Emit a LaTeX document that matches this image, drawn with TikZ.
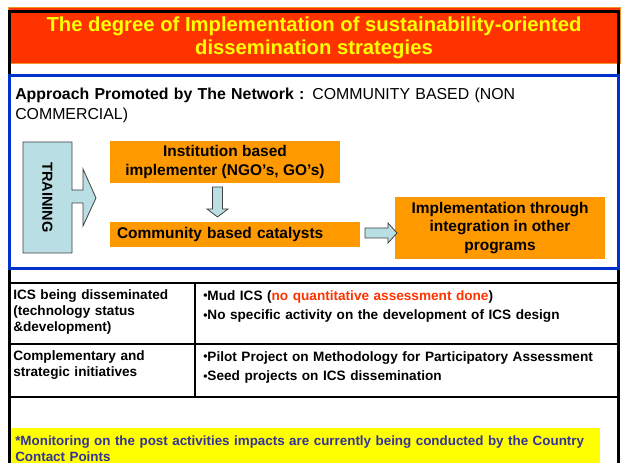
\documentclass[tikz,border=0pt]{standalone}
\usepackage{fontspec}
\setmainfont{Liberation Sans}
\definecolor{titlered}{RGB}{255,51,0}
\definecolor{titleyellow}{RGB}{255,255,0}
\definecolor{boxorange}{RGB}{255,153,0}
\definecolor{arrowblue}{RGB}{185,222,228}
\definecolor{frameblue}{RGB}{0,51,204}
\definecolor{notenavy}{RGB}{51,51,153}
\definecolor{titleedge}{RGB}{240,150,40}
\newcommand{\tbul}{{\fontsize{9}{9}\selectfont\raisebox{0.1ex}{•}}}
\begin{document}
\begin{tikzpicture}[x=0.75pt,y=-0.75pt,
  orangebox/.style={fill=boxorange, draw=none, inner sep=0pt,
    font=\fontsize{11.6}{13.9}\selectfont\bfseries, align=center},
  tabletext/.style={font=\fontsize{10.2}{12}\selectfont\bfseries, inner sep=0pt,
    anchor=base west, align=left, text width=135pt},
  bullettext/.style={font=\fontsize{10.2}{14.6}\selectfont\bfseries, inner sep=0pt,
    anchor=base west, align=left, text width=310pt},
  blockarrow/.style={fill=arrowblue, draw=black!75, line width=0.6pt},
  blackrule/.style={line width=1.5pt, draw=black},
]
\useasboundingbox (0,0) rectangle (626,463);
\fill[white] (0,0) rectangle (626,463);

% title bar
\filldraw[fill=titlered, draw=titleedge, line width=0.75pt] (8,8) rectangle (620,64);
\node[text=titleyellow, font=\fontsize{15.2}{17.3}\selectfont\bfseries, align=center,
  inner sep=0pt] (title) at (314,38)
  {The degree of Implementation of sustainability-oriented\\dissemination strategies};

% outer black frame
\draw[line width=1.9pt] (9.5,463) -- (9.5,11.5) -- (618.5,11.5) -- (618.5,463);

% blue approach box
\draw[frameblue, line width=2.25pt] (9.5,75.5) rectangle (618.5,268.5);
\node[anchor=base west, inner sep=0pt, text width=450pt, align=left,
  font=\fontsize{11.9}{14.3}\selectfont] (approach) at (15,100)
  {\textbf{Approach Promoted by The Network :} COMMUNITY BASED (NON\\COMMERCIAL)};

% training shape
\draw[blockarrow]
  (23,142) -- (72,142) -- (72,190) -- (83,190) -- (83,169) -- (96,198)
  -- (83,226) -- (83,203) -- (72,203) -- (72,253) -- (23,253) -- cycle;
\node[rotate=-90, font=\fontsize{10.9}{13}\selectfont\bfseries, inner sep=0pt]
  (training) at (47.5,197.5) {TRAINING};

% orange boxes
\node[orangebox, minimum width=172.5pt, minimum height=31.5pt] (inst) at (225,162)
  {Institution based\\implementer (NGO’s, GO’s)};
\node[orangebox, minimum height=18.75pt, text width=177pt, inner xsep=5.25pt,
  align=left] (comm) at (235,234.5) {Community based catalysts};
\node[orangebox, minimum width=157.5pt, minimum height=46.5pt] (impl) at (500,228)
  {Implementation through\\integration in other\\programs};

% block arrows
\coordinate (downtip) at (217.5,217);
\draw[blockarrow] (212.5,187) -- (222.5,187) -- (222.5,209) -- (228,209)
  -- (downtip) -- (207,209) -- (212.5,209) -- cycle;
\coordinate (righttip) at (397,233);
\draw[blockarrow] (365,228) -- (388,228) -- (388,223) -- (righttip)
  -- (388,243) -- (388,238) -- (365,238) -- cycle;

% table
\draw[blackrule] (9.5,283) rectangle (618.5,397);
\draw[blackrule] (9.5,344) -- (618.5,344);
\draw[blackrule] (195,283) -- (195,397);
\node[tabletext] (r1c1) at (13,300)
  {ICS being disseminated\\(technology status\\\&development)};
\node[tabletext] (r2c1) at (13,361)
  {Complementary and\\strategic initiatives};
\node[bullettext] (r1c2) at (203,300.5)
  {\tbul Mud ICS (\textcolor{titlered}{no quantitative assessment done})\\
   \tbul No specific activity on the development of ICS design};
\node[bullettext] (r2c2) at (203,361.5)
  {\tbul Pilot Project on Methodology for Participatory Assessment\\
   \tbul Seed projects on ICS dissemination};

% note
\fill[titleyellow] (11,428) rectangle (600,463);
\node[anchor=base west, inner sep=0pt, text width=440pt, align=left, text=notenavy,
  font=\fontsize{10.05}{11.3}\selectfont\bfseries] (note) at (15,446)
  {*Monitoring on the post activities impacts are currently being conducted by the Country\\Contact Points};
\end{tikzpicture}
\end{document}
